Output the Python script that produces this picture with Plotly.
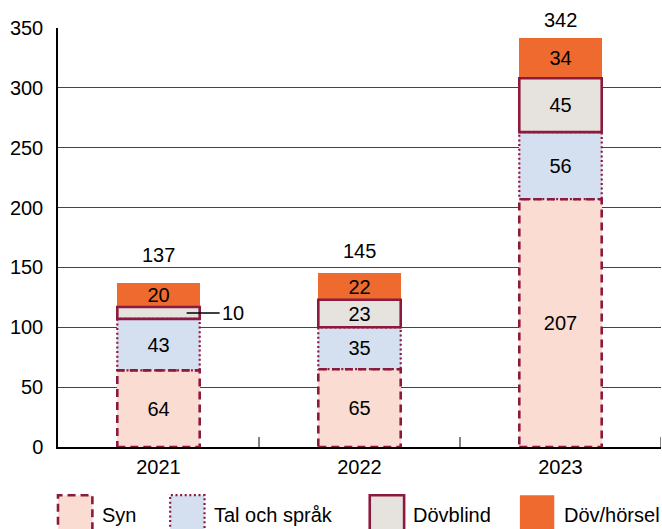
import plotly.graph_objects as go

years = ["2021", "2022", "2023"]
series_names = ["Syn", "Tal och språk", "Dövblind", "Döv/hörsel"]
syn = [64, 65, 207]
tal = [43, 35, 56]
dovblind = [10, 23, 45]
dov = [20, 22, 34]
totals = [137, 145, 342]
y_ticks = [0, 50, 100, 150, 200, 250, 300, 350]

values = [syn, tal, dovblind, dov]
fills = ["#FADCD2", "#D4E0F0", "#E6E3DF", "#EE6A2E"]
border = "#8C1A3F"
dashes = ["8px,5px", "2px,2.6px", "solid", None]
lwidths = [2.6, 2.2, 2.6, 0]

FONT = "Liberation Sans, Arial, sans-serif"
FS = 20
W = 0.41

fig = go.Figure()
base = [0, 0, 0]
for si, (name, vals) in enumerate(zip(series_names, values)):
    texts = []
    for i, v in enumerate(vals):
        texts.append("" if (si == 2 and i == 0) else str(v))
    fig.add_trace(go.Bar(
        x=list(range(3)), y=vals, name=name, width=W,
        marker=dict(color=fills[si], line=dict(width=0)),
        text=texts, textposition="inside", insidetextanchor="middle",
        textfont=dict(size=FS, color="black", family=FONT),
        textangle=0, constraintext="none",
        showlegend=False, hoverinfo="skip",
    ))
    if dashes[si] is not None:
        for i, v in enumerate(vals):
            fig.add_shape(type="rect", xref="x", yref="y",
                          x0=i - W / 2, x1=i + W / 2, y0=base[i], y1=base[i] + v,
                          line=dict(color=border, width=lwidths[si], dash=dashes[si]),
                          fillcolor="rgba(0,0,0,0)", layer="above")
    base = [b + v for b, v in zip(base, vals)]

# total labels
total_shift = [15, 9, 5]
total_bg = ["rgba(0,0,0,0)", "rgba(0,0,0,0)", "white"]
for i, t in enumerate(totals):
    fig.add_annotation(x=i, y=t, text=str(t), showarrow=False, yanchor="bottom",
                       yshift=total_shift[i], bgcolor=total_bg[i], borderpad=1,
                       font=dict(size=FS, color="black", family=FONT))

# leader label for small segment
fig.add_annotation(x=0.14, y=syn[0] + tal[0] + dovblind[0] / 2, xref="x", yref="y",
                   text=str(dovblind[0]), showarrow=True, arrowhead=0, arrowwidth=1.5,
                   arrowcolor="black", ax=33, ay=0, xanchor="left",
                   font=dict(size=FS, color="black", family=FONT))

# manual legend
leg_x = [0.0, 0.186, 0.517, 0.766]
box_w = 0.057
for si, name in enumerate(series_names):
    x0 = leg_x[si]
    line = dict(color=border, width=lwidths[si], dash=dashes[si]) if dashes[si] else dict(width=0)
    fig.add_shape(type="rect", xref="paper", yref="paper",
                  x0=x0, x1=x0 + box_w, y0=-0.21, y1=-0.115,
                  fillcolor=fills[si], line=line)
    fig.add_annotation(xref="paper", yref="paper", x=x0 + box_w + 0.012, y=-0.162,
                       text=name, showarrow=False, xanchor="left", yanchor="middle",
                       font=dict(size=FS, color="black", family=FONT))

fig.update_layout(
    barmode="stack",
    width=662, height=529,
    margin=dict(l=58, r=1, t=28, b=82, autoexpand=False),
    plot_bgcolor="white", paper_bgcolor="white",
    font=dict(family=FONT, size=FS, color="black"),
    xaxis=dict(tickmode="array", tickvals=list(range(3)), ticktext=years,
               range=[-0.5, 2.5], showline=True, linecolor="black", linewidth=1.5,
               ticks="", showgrid=False, zeroline=False, ticklabelstandoff=1,
               tickfont=dict(size=FS, family=FONT)),
    yaxis=dict(range=[0, 350], tickvals=y_ticks, showline=True, linecolor="black",
               linewidth=1.5, showgrid=True, gridcolor="#444", gridwidth=1,
               zeroline=False, ticks="", ticklabelstandoff=9,
               tickfont=dict(size=FS, family=FONT)),
)

# inside ticks at category boundaries (x axis)
for b in [0.5, 1.5, 2.5]:
    fig.add_shape(type="line", xref="x", yref="paper", x0=b, x1=b, y0=0, y1=0.024,
                  line=dict(color="#333", width=1.2))

fig.write_html("out.html", config={"displayModeBar": False},
               post_script="document.body.style.margin='0';document.body.style.overflow='hidden';")
